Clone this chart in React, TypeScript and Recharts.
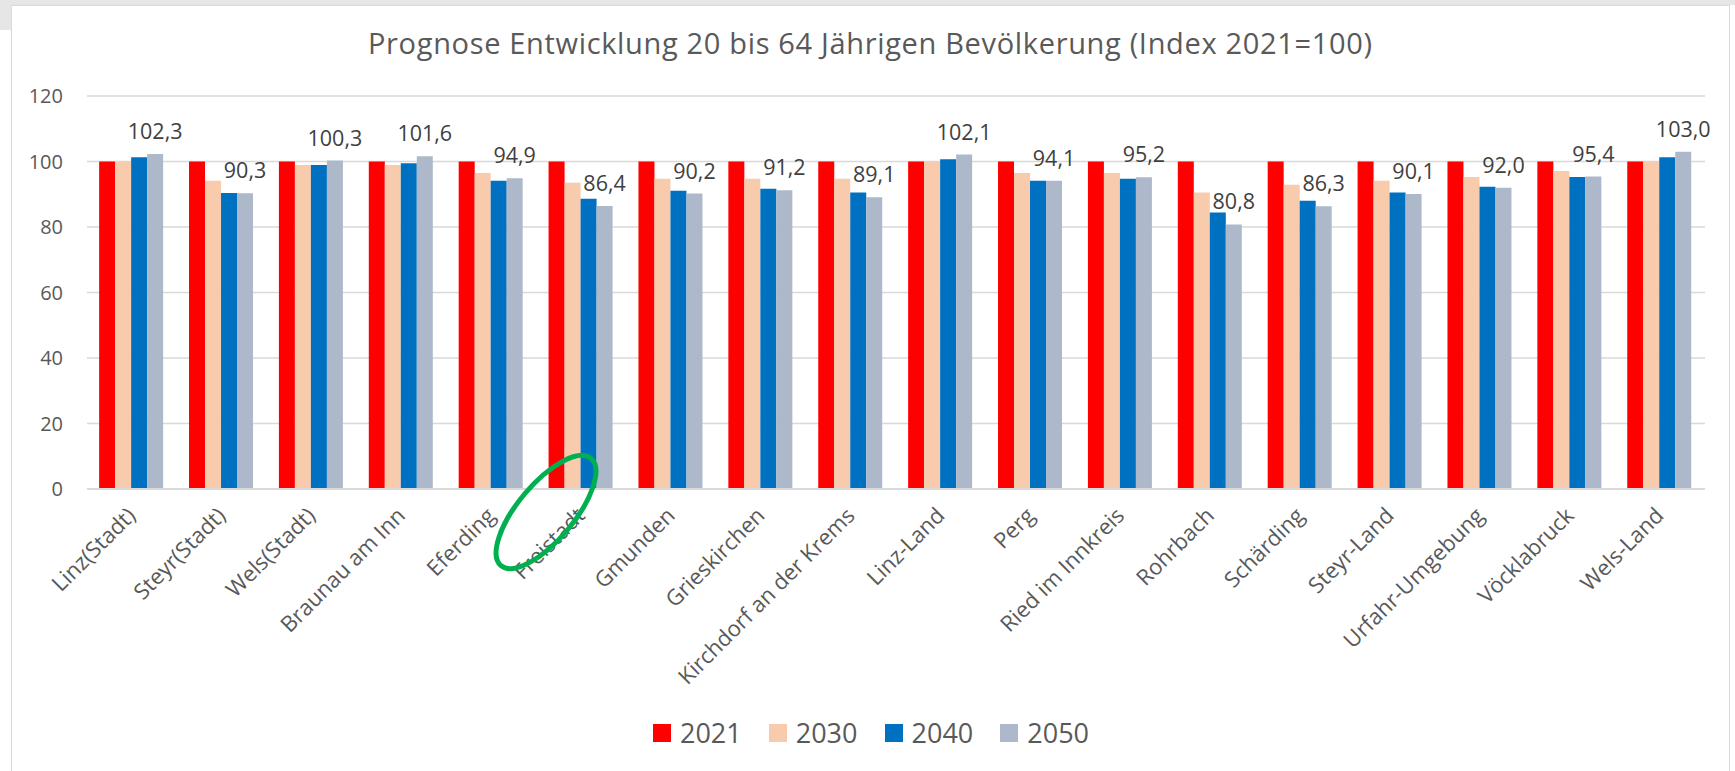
import { BarChart, Bar, XAxis, YAxis, CartesianGrid, LabelList } from 'recharts';

const FONT = '"Open Sans", "Noto Sans", sans-serif';
const TEXT = '#595959';

const districts = [
  'Linz(Stadt)', 'Steyr(Stadt)', 'Wels(Stadt)', 'Braunau am Inn', 'Eferding', 'Freistadt',
  'Gmunden', 'Grieskirchen', 'Kirchdorf an der Krems', 'Linz-Land', 'Perg', 'Ried im Innkreis',
  'Rohrbach', 'Schärding', 'Steyr-Land', 'Urfahr-Umgebung', 'Vöcklabruck', 'Wels-Land',
];
const v2021 = [100, 100, 100, 100, 100, 100, 100, 100, 100, 100, 100, 100, 100, 100, 100, 100, 100, 100];
const v2030 = [100, 94.1, 98.9, 98.9, 96.5, 93.5, 94.7, 94.7, 94.7, 100, 96.5, 96.5, 90.5, 92.9, 94.1, 95.3, 97.1, 100];
const v2040 = [101.3, 90.4, 98.9, 99.5, 94.1, 88.6, 91.1, 91.7, 90.5, 100.7, 94.1, 94.7, 84.4, 88.0, 90.5, 92.3, 95.3, 101.3];
const v2050 = [102.3, 90.3, 100.3, 101.6, 94.9, 86.4, 90.2, 91.2, 89.1, 102.1, 94.1, 95.2, 80.8, 86.3, 90.1, 92.0, 95.4, 103.0];
const yTicks = [0, 20, 40, 60, 80, 100, 120];

const series = [
  { key: '2021', color: '#FF0000' },
  { key: '2030', color: '#F8CBAD' },
  { key: '2040', color: '#0070C0' },
  { key: '2050', color: '#ADB9CA' },
];

const data = districts.map((name, i) => ({
  name,
  '2021': v2021[i],
  '2030': v2030[i],
  '2040': v2040[i],
  '2050': v2050[i],
}));

const fmt = (v: any) => Number(v).toFixed(1).replace('.', ',');

function XTick({ x, y, payload }: any) {
  const ax = x + 5;
  const ay = y + 28;
  return (
    <text x={ax} y={ay} transform={`rotate(-45 ${ax} ${ay})`} textAnchor="end" fontSize={22} fill={TEXT} fontFamily={FONT}>
      {payload.value}
    </text>
  );
}

export default function App() {
  return (
    <div style={{ position: 'fixed', left: 0, top: 0, width: 1735, height: 771, background: '#fff', overflow: 'hidden', fontFamily: FONT }}>
      {/* surrounding sheet bits */}
      <div style={{ position: 'absolute', left: 0, top: 0, width: 1735, height: 5, background: '#e6e6e6' }} />
      <div style={{ position: 'absolute', left: 0, top: 0, width: 11, height: 30, background: '#e6e6e6' }} />
      <div style={{ position: 'absolute', left: 11, top: 5, width: 1719, height: 780, border: '1px solid #d9d9d9', boxSizing: 'border-box' }} />

      <svg style={{ position: 'absolute', left: 0, top: 0 }} width={1735} height={80}>
        <text x={368} y={54} textLength={1004} lengthAdjust="spacing" fontSize={29} fill={TEXT} fontFamily={FONT}>
          Prognose Entwicklung 20 bis 64 Jährigen Bevölkerung (Index 2021=100)
        </text>
      </svg>

      <div style={{ position: 'absolute', left: 0, top: 0 }}>
        <BarChart width={1735} height={771} data={data} margin={{ top: 96, right: 30, bottom: 0, left: 0 }}
          barCategoryGap="13.5%" barGap={0}>
          <CartesianGrid vertical={false} stroke="#d9d9d9" strokeWidth={1.5} />
          <XAxis dataKey="name" height={282} interval={0} tickSize={0} tickMargin={0}
            axisLine={{ stroke: '#d9d9d9', strokeWidth: 2 }} tick={<XTick />} />
          <YAxis width={87} domain={[0, 120]} ticks={yTicks} axisLine={false} tickLine={false}
            tickSize={0} tickMargin={24} tick={{ fontSize: 20, fill: TEXT, fontFamily: FONT }} />
          {series.map(s => (
            <Bar key={s.key} dataKey={s.key} fill={s.color} isAnimationActive={false}>
              {s.key === '2050' && (
                <LabelList dataKey="2050" position="top" offset={15} formatter={fmt}
                  style={{ fontSize: 21.5, fill: '#404040', fontFamily: FONT }} />
              )}
            </Bar>
          ))}
        </BarChart>
      </div>

      <svg style={{ position: 'absolute', left: 0, top: 0, pointerEvents: 'none' }} width={1735} height={771}>
        <ellipse cx={546} cy={512} rx={70} ry={28} transform="rotate(-50 546 512)" fill="none" stroke="#00B050" strokeWidth={5} />
      </svg>

      <div style={{ position: 'absolute', left: 0, top: 719, width: 1742, display: 'flex', justifyContent: 'center', gap: 27 }}>
        {series.map(s => (
          <div key={s.key} style={{ display: 'flex', alignItems: 'center', gap: 9 }}>
            <div style={{ width: 18, height: 18, background: s.color }} />
            <span style={{ fontSize: 27, lineHeight: 1, color: TEXT }}>{s.key}</span>
          </div>
        ))}
      </div>
    </div>
  );
}
